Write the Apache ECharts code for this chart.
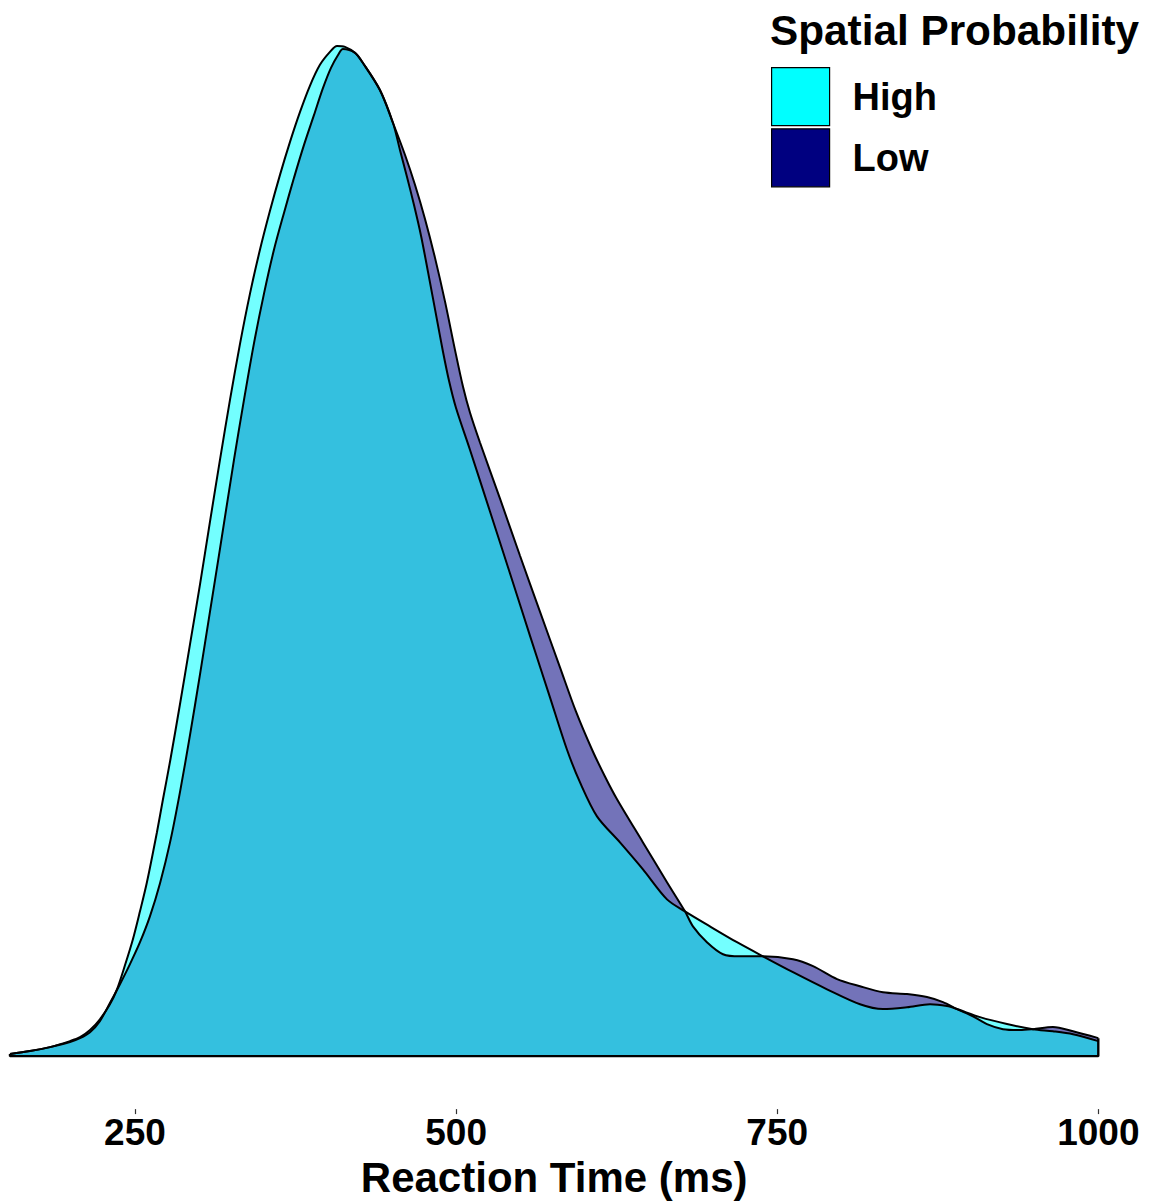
<!DOCTYPE html>
<html>
<head>
<meta charset="utf-8">
<script src="https://cdn.jsdelivr.net/npm/echarts@6/dist/echarts.min.js"></script>
<style>
html,body{margin:0;padding:0;background:#fff;}
#chart{width:1152px;height:1203px;}
</style>
</head>
<body>
<div id="chart"></div>
<script>
// Reaction time (ms) sample positions and kernel density (x10^-3 per ms)
var highRT = [152.7,168.2,183.8,199.4,207.2,215.0,222.7,230.5,236.0,242.2,248.4,253.9,259.3,267.1,271.8,277.3,285.0,292.8,300.6,308.4,316.2,324.0,331.8,339.5,347.3,355.1,362.9,370.7,378.5,386.2,394.0,401.8,407.3,413.5,421.3,427.5,440.7,450.9,456.3,461.8,467.2,472.7,478.1,485.1,489.8,494.5,499.9,510.8,526.4,542.0,557.5,573.1,586.3,596.5,609.7,627.6,645.5,664.2,678.2,697.6,718.7,738.9,762.3,788.8,814.5,832.4,851.1,869.0,882.2,890.0,907.9,928.9,949.2,964.7,980.3,1000];
var highDensity = [0.007,0.017,0.030,0.050,0.063,0.087,0.123,0.173,0.223,0.303,0.390,0.483,0.580,0.747,0.857,0.983,1.173,1.373,1.573,1.783,1.990,2.190,2.377,2.543,2.690,2.820,2.940,3.050,3.150,3.237,3.307,3.350,3.370,3.367,3.347,3.313,3.223,3.113,3.023,2.933,2.840,2.737,2.617,2.457,2.350,2.253,2.163,2.023,1.817,1.610,1.403,1.197,1.023,0.913,0.800,0.713,0.623,0.523,0.483,0.433,0.380,0.333,0.280,0.223,0.173,0.157,0.163,0.173,0.167,0.157,0.130,0.107,0.090,0.083,0.073,0.050];

var lowRT = [152.7,168.2,183.8,199.4,207.2,215.0,222.7,230.5,238.3,246.1,253.9,261.7,269.5,277.3,285.0,292.8,300.6,308.4,316.2,327.1,334.9,342.6,350.4,358.2,366.0,373.8,381.6,389.4,396.4,402.6,408.1,411.9,421.3,427.5,440.7,450.9,460.2,468.0,475.8,483.6,491.4,499.1,505.4,510.8,518.6,534.2,549.7,565.3,580.9,593.3,605.8,615.9,625.3,645.5,664.2,678.2,684.4,695.3,707.8,721.0,738.9,762.3,777.9,796.6,814.5,832.4,851.1,866.6,879.1,890.0,902.4,913.3,925.8,939.0,949.2,964.7,980.3,1000];
var lowDensity = [0.007,0.017,0.030,0.047,0.060,0.080,0.117,0.177,0.240,0.307,0.380,0.467,0.577,0.713,0.880,1.070,1.273,1.483,1.693,1.990,2.190,2.377,2.543,2.690,2.813,2.930,3.040,3.140,3.230,3.297,3.340,3.360,3.347,3.313,3.223,3.113,3.007,2.907,2.793,2.663,2.517,2.357,2.233,2.147,2.047,1.860,1.670,1.483,1.297,1.150,1.023,0.933,0.857,0.713,0.580,0.483,0.433,0.380,0.340,0.333,0.333,0.323,0.300,0.257,0.233,0.213,0.207,0.197,0.180,0.157,0.133,0.107,0.090,0.087,0.090,0.097,0.083,0.060];

var xTicks = [250, 500, 750, 1000];
var groups = ['High', 'Low'];
var xMin = 152.7, xMax = 1000;

function pairs(xs, ys){ return xs.map(function(x,i){ return [x, ys[i]]; }); }
var highData = pairs(highRT, highDensity);
var lowData = pairs(lowRT, lowDensity);
// polygon outline: left edge, baseline, right edge
var outline = [[xMin, highDensity[0]],[xMin,0],[xMax,0],[xMax, Math.max(highDensity[highDensity.length-1], lowDensity[lowDensity.length-1])]];

var FONT = 'Liberation Sans, Arial, Helvetica, sans-serif';
var chart = echarts.init(document.getElementById('chart'), null, {renderer:'svg'});
chart.setOption({
  animation:false,
  backgroundColor:'#ffffff',
  title:{
    text:'Spatial Probability', left:765, top:4,
    textStyle:{fontFamily:FONT, fontSize:42.3, fontWeight:'bold', color:'#000'}
  },
  legend:{
    left:771, top:67, orient:'vertical', padding:0,
    icon:'rect', itemWidth:58, itemHeight:58, itemGap:2,
    selectedMode:false,
    itemStyle:{borderColor:'#000', borderWidth:1.2},
    textStyle:{fontFamily:FONT, fontSize:38, fontWeight:'bold', color:'#000', padding:[0,0,0,18]},
    data:[{name:groups[0], itemStyle:{color:'#00FFFF', opacity:1}},{name:groups[1], itemStyle:{color:'#000080', opacity:1}}]
  },
  grid:{left:10, right:53.7, top:0, bottom:93},
  xAxis:{
    type:'value', min:xMin, max:xMax,
    name:'Reaction Time (ms)', nameLocation:'middle', nameGap:42,
    nameTextStyle:{fontFamily:FONT, fontSize:42, fontWeight:'bold', color:'#000'},
    axisLine:{show:false, onZero:false},
    axisTick:{show:true, length:5, customValues:xTicks, lineStyle:{color:'#333', width:1.2}},
    axisLabel:{customValues:xTicks, fontFamily:FONT, fontSize:37, fontWeight:'bold', color:'#000', margin:5,
      formatter:function(v){ return String(Math.round(v)); }},
    splitLine:{show:false}
  },
  yAxis:{
    type:'value', min:-0.1767, max:3.5233, show:false, splitLine:{show:false}
  },
  series:[
    {name:'Low', type:'line', data:lowData, symbol:'none', smooth:0.3,
     itemStyle:{color:'#000080'},
     lineStyle:{color:'#000', width:2},
     areaStyle:{color:'#000080', opacity:0.55, origin:0}},
    {name:'High', type:'line', data:highData, symbol:'none', smooth:0.3,
     itemStyle:{color:'#00FFFF'},
     lineStyle:{color:'#000', width:2},
     areaStyle:{color:'#00FFFF', opacity:0.55, origin:0}},
    {name:'outline', type:'line', data:outline, symbol:'none', silent:true,
     lineStyle:{color:'#000', width:2.4}}
  ]
});
</script>
</body>
</html>
